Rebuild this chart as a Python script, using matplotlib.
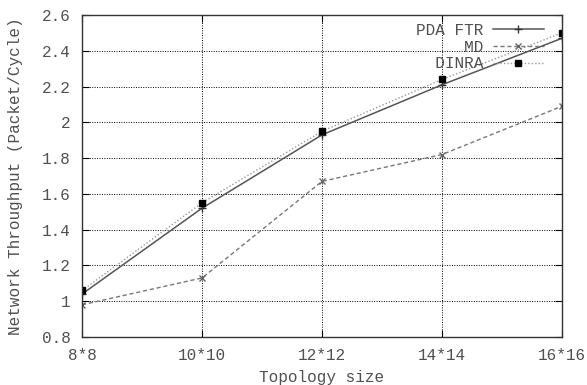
import matplotlib
matplotlib.use("Agg")
import matplotlib.pyplot as plt

# Network throughput versus mesh topology size
topologies = ["8*8", "10*10", "12*12", "14*14", "16*16"]
pda_ftr = [1.04, 1.52, 1.93, 2.21, 2.47]
md = [0.98, 1.13, 1.67, 1.82, 2.09]
dinra = [1.06, 1.55, 1.95, 2.24, 2.50]
y_ticks = [0.8, 1.0, 1.2, 1.4, 1.6, 1.8, 2.0, 2.2, 2.4, 2.6]
y_tick_labels = ["0.8", "1", "1.2", "1.4", "1.6", "1.8", "2", "2.2", "2.4", "2.6"]
series_names = ["PDA FTR", "MD", "DINRA"]

plt.rcParams["font.family"] = ["Liberation Mono", "DejaVu Sans Mono"]
text_color = "#505050"

fig = plt.figure(figsize=(5.87, 3.85), dpi=100)
ax = fig.add_axes([0.1397, 0.1247, 0.8177, 0.8363])

x = list(range(len(topologies)))

# right-align legend labels by padding in the monospace font
width = max(len(n) for n in series_names)
labels = [n.rjust(width) for n in series_names]

ax.plot(x, pda_ftr, color="#555555", linestyle="-", linewidth=1.1,
        marker="+", markersize=6, markeredgecolor="#333333", label=labels[0])
ax.plot(x, md, color="#777777", linestyle=(0, (3, 2)), linewidth=1.0,
        marker="x", markersize=4, markeredgecolor="#666666", label=labels[1])
ax.plot(x, dinra, color="#999999", linestyle=(0, (1, 1.5)), linewidth=1.0,
        marker="s", markersize=4.5, markerfacecolor="black",
        markeredgecolor="black", label=labels[2])

ax.set_xlim(0, len(topologies) - 1)
ax.set_ylim(0.8, 2.6)
ax.set_xticks(x)
ax.set_xticklabels(topologies)
ax.set_yticks(y_ticks)
ax.set_yticklabels(y_tick_labels)

ax.grid(True, color="black", linestyle=(0, (1, 1.5)), linewidth=0.7)
ax.tick_params(direction="in", top=True, right=True, length=5,
               labelsize=11.5, labelcolor=text_color)
ax.tick_params(axis="x", pad=8)
ax.tick_params(axis="y", pad=8)
for spine in ax.spines.values():
    spine.set_color("#333333")
    spine.set_linewidth(1.0)

ax.set_xlabel("Topology size", fontsize=11.5, color=text_color, labelpad=5)
ax.set_ylabel("Network Throughput (Packet/Cycle)", fontsize=11.5,
              color=text_color, labelpad=14)

leg = ax.legend(loc="upper right", bbox_to_anchor=(0.962, 0.975),
                frameon=False, markerfirst=False, fontsize=11.5,
                handlelength=3.2, handletextpad=0.55, labelspacing=0.1,
                borderpad=0, borderaxespad=0)
for t in leg.get_texts():
    t.set_color(text_color)

fig.savefig("out.png", dpi=100)
